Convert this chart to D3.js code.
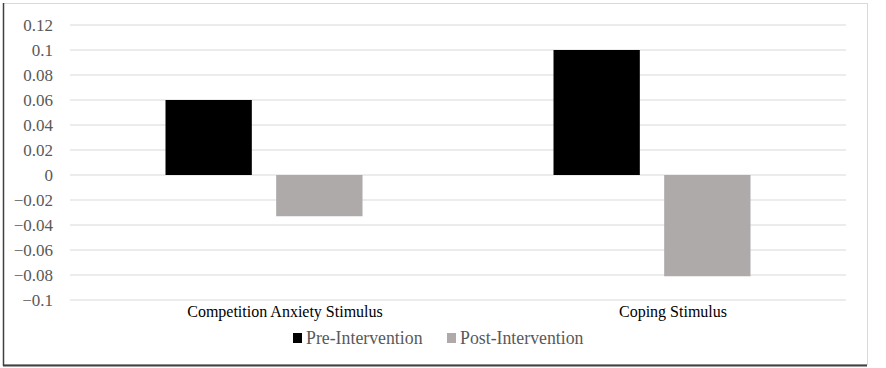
<!DOCTYPE html>
<html>
<head>
<meta charset="utf-8">
<script src="https://cdn.jsdelivr.net/npm/d3@7"></script>
<style>
  body { margin: 0; background: #fff; }
</style>
</head>
<body>
<div id="chart"></div>
<script>
const categories = ["Competition Anxiety Stimulus", "Coping Stimulus"]
const seriesNames = ["Pre-Intervention", "Post-Intervention"]
const preValues = [0.06, 0.1]
const postValues = [-0.033, -0.081]
const yTicks = [0.12, 0.1, 0.08, 0.06, 0.04, 0.02, 0, -0.02, -0.04, -0.06, -0.08, -0.1]
const colors = ["#000000", "#aeaaaa"]

const width = 886, height = 368
const serif = "'Liberation Serif', 'Times New Roman', 'DejaVu Serif', serif"

const svg = d3.select("#chart").append("svg")
  .attr("width", width)
  .attr("height", height)
  .style("font-family", serif)

// chart frame
svg.append("rect")
  .attr("x", 3.5).attr("y", 3.5)
  .attr("width", 864).attr("height", 361)
  .attr("fill", "#fff")
  .attr("stroke", "#d9d9d9")
svg.append("line")
  .attr("x1", 3.5).attr("x2", 3.5).attr("y1", 3).attr("y2", 366)
  .attr("stroke", "#404040").attr("stroke-width", 1.5)
svg.append("line")
  .attr("x1", 3).attr("x2", 867).attr("y1", 365.5).attr("y2", 365.5)
  .attr("stroke", "#404040").attr("stroke-width", 2)

const x0 = d3.scaleBand()
  .domain(categories)
  .range([70, 846])

const x1 = d3.scaleBand()
  .domain(seriesNames)
  .range([0, 197])
  .paddingInner(0.22)

const y = d3.scaleLinear()
  .domain([-0.1, 0.12])
  .range([300, 25])

// gridlines
svg.append("g")
  .selectAll("line")
  .data(yTicks)
  .enter().append("line")
    .attr("x1", 70).attr("x2", 846)
    .attr("y1", d => y(d)).attr("y2", d => y(d))
    .attr("stroke", "#d9d9d9")
    .attr("stroke-width", 1.2)

// tick labels
svg.append("g")
  .selectAll("text")
  .data(yTicks)
  .enter().append("text")
    .attr("x", 53)
    .attr("y", d => y(d))
    .attr("dy", "0.35em")
    .attr("text-anchor", "end")
    .attr("font-size", 17)
    .attr("font-family", serif)
    .attr("fill", "#595959")
    .text(d => d3.format("")(d))

const rows = categories.map((c, i) => ({cat: c, vals: [preValues[i], postValues[i]]}))

const groups = svg.selectAll(".grp")
  .data(rows)
  .enter().append("g")
    .attr("class", "grp")
    .attr("transform", d => `translate(${x0(d.cat) + x0.bandwidth() / 2 - 98.5},0)`)

groups.selectAll("rect")
  .data(d => d.vals.map((v, j) => ({s: seriesNames[j], v: v, j: j})))
  .enter().append("rect")
    .attr("x", d => x1(d.s))
    .attr("width", x1.bandwidth())
    .attr("y", d => Math.min(y(d.v), y(0)))
    .attr("height", d => Math.abs(y(d.v) - y(0)))
    .attr("fill", d => colors[d.j])

// category labels (sit a little right of the bar groups, as in the original)
svg.append("g")
  .selectAll("text")
  .data(categories)
  .enter().append("text")
    .attr("x", d => x0(d) + x0.bandwidth() / 2 + 21)
    .attr("y", 317)
    .attr("text-anchor", "middle")
    .attr("font-size", 16)
    .attr("font-family", serif)
    .attr("fill", "#000")
    .text(d => d)

// legend
const legendX = [293, 447]
const legend = svg.append("g")
  .selectAll("g")
  .data(seriesNames)
  .enter().append("g")
    .attr("transform", (d, i) => `translate(${legendX[i]},338)`)

legend.append("rect")
  .attr("x", 0).attr("y", -5)
  .attr("width", 9).attr("height", 10)
  .attr("fill", (d, i) => colors[i])

legend.append("text")
  .attr("x", 13)
  .attr("dy", "0.35em")
  .attr("font-size", 17.8)
  .attr("font-family", serif)
  .attr("fill", "#595959")
  .text(d => d)
</script>
</body>
</html>
